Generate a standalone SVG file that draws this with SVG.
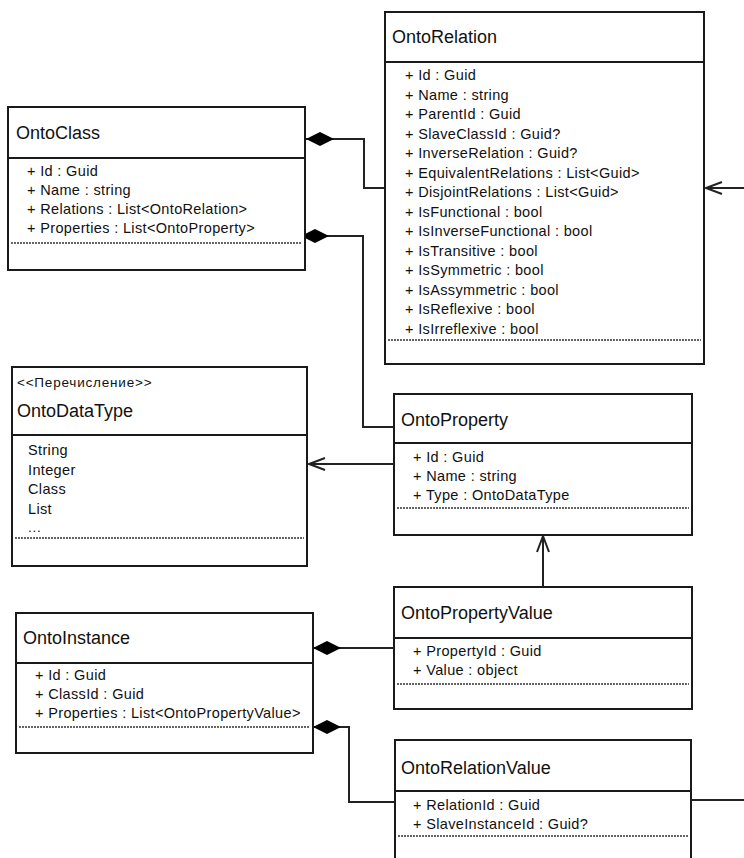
<svg xmlns="http://www.w3.org/2000/svg" width="744" height="858" viewBox="0 0 744 858">
<style>
.bg{fill:#fff}
.box{fill:#fff;stroke:#1a1a1a;stroke-width:2}
.sep{stroke:#1a1a1a;stroke-width:2}
.dot{stroke:#333;stroke-width:1.3;stroke-dasharray:2 1}
text{font-family:"Liberation Sans",Arial,sans-serif;fill:#111}
.title{font-size:18px}
.attr{font-size:14.5px;letter-spacing:0.35px}
.stereo{font-size:13.5px;letter-spacing:0.8px}
.conn{fill:none;stroke:#222;stroke-width:2}
.comp{marker-start:url(#diamond)}
.nav{marker-end:url(#open)}
</style>
<defs>
<marker id="diamond" markerUnits="userSpaceOnUse" viewBox="0 0 28 14" refX="0" refY="7" markerWidth="28" markerHeight="14" orient="auto">
<path d="M0,7 L14,0 L28,7 L14,14 Z" fill="#000"/>
</marker>
<marker id="open" markerUnits="userSpaceOnUse" viewBox="-18 -8 20 16" refX="0" refY="0" markerWidth="20" markerHeight="16" orient="auto" overflow="visible">
<path d="M-16,-6 L0,0 L-16,6" fill="none" stroke="#222" stroke-width="2"/>
</marker>
</defs>
<rect class="bg" width="744" height="858"/>

<g id="connectors">
<path class="conn comp" d="M306,139 H364 V188 H385"/>
<path class="conn comp" d="M301,236 H363 V427 H395"/>
<path class="conn nav" d="M744,188 H706"/>
<path class="conn nav" d="M394,464 H309"/>
<path class="conn nav" d="M543,587 V536"/>
<path class="conn comp" d="M313,648 H394"/>
<path class="conn comp" d="M313,727 H349 V802 H395"/>
<path class="conn" d="M691,800 H744"/>
</g>

<g id="OntoClass">
<rect class="box" x="8" y="107" width="297" height="163"/>
<line class="sep" x1="8" y1="158" x2="305" y2="158"/>
<text class="title" x="16" y="139">OntoClass</text>
<text class="attr" x="27" y="176">+ Id : Guid</text>
<text class="attr" x="27" y="195">+ Name : string</text>
<text class="attr" x="27" y="214">+ Relations : List&lt;OntoRelation&gt;</text>
<text class="attr" x="27" y="233">+ Properties : List&lt;OntoProperty&gt;</text>
<line class="dot" x1="11" y1="243" x2="302" y2="243"/>
</g>

<g id="OntoRelation">
<rect class="box" x="385" y="12" width="319" height="352"/>
<line class="sep" x1="385" y1="62" x2="704" y2="62"/>
<text class="title" x="392" y="43">OntoRelation</text>
<text class="attr" x="405" y="80">+ Id : Guid</text>
<text class="attr" x="405" y="99.5">+ Name : string</text>
<text class="attr" x="405" y="119">+ ParentId : Guid</text>
<text class="attr" x="405" y="138.5">+ SlaveClassId : Guid?</text>
<text class="attr" x="405" y="158">+ InverseRelation : Guid?</text>
<text class="attr" x="405" y="177.5">+ EquivalentRelations : List&lt;Guid&gt;</text>
<text class="attr" x="405" y="197">+ DisjointRelations : List&lt;Guid&gt;</text>
<text class="attr" x="405" y="216.5">+ IsFunctional : bool</text>
<text class="attr" x="405" y="236">+ IsInverseFunctional : bool</text>
<text class="attr" x="405" y="255.5">+ IsTransitive : bool</text>
<text class="attr" x="405" y="275">+ IsSymmetric : bool</text>
<text class="attr" x="405" y="294.5">+ IsAssymmetric : bool</text>
<text class="attr" x="405" y="314">+ IsReflexive : bool</text>
<text class="attr" x="405" y="333.5">+ IsIrreflexive : bool</text>
<line class="dot" x1="388" y1="340" x2="701" y2="340"/>
</g>

<g id="OntoDataType">
<rect class="box" x="12" y="367" width="295" height="199"/>
<line class="sep" x1="12" y1="435" x2="307" y2="435"/>
<text class="stereo" x="17" y="387">&lt;&lt;Перечисление&gt;&gt;</text>
<text class="title" x="17" y="417">OntoDataType</text>
<text class="attr" x="28" y="455">String</text>
<text class="attr" x="28" y="474.5">Integer</text>
<text class="attr" x="28" y="494">Class</text>
<text class="attr" x="28" y="513.5">List</text>
<text class="stereo" x="28" y="532">...</text>
<line class="dot" x1="15" y1="538" x2="304" y2="538"/>
</g>

<g id="OntoProperty">
<rect class="box" x="394" y="394" width="298" height="141"/>
<line class="sep" x1="394" y1="443" x2="692" y2="443"/>
<text class="title" x="401" y="426">OntoProperty</text>
<text class="attr" x="413" y="462">+ Id : Guid</text>
<text class="attr" x="413" y="481">+ Name : string</text>
<text class="attr" x="413" y="500">+ Type : OntoDataType</text>
<line class="dot" x1="397" y1="508" x2="689" y2="508"/>
</g>

<g id="OntoPropertyValue">
<rect class="box" x="394" y="587" width="298" height="122"/>
<line class="sep" x1="394" y1="638" x2="692" y2="638"/>
<text class="title" x="401" y="619">OntoPropertyValue</text>
<text class="attr" x="413" y="656">+ PropertyId : Guid</text>
<text class="attr" x="413" y="675">+ Value : object</text>
<line class="dot" x1="397" y1="684" x2="689" y2="684"/>
</g>

<g id="OntoInstance">
<rect class="box" x="16" y="613" width="297" height="140"/>
<line class="sep" x1="16" y1="663" x2="313" y2="663"/>
<text class="title" x="23" y="644">OntoInstance</text>
<text class="attr" x="35" y="680">+ Id : Guid</text>
<text class="attr" x="35" y="699">+ ClassId : Guid</text>
<text class="attr" x="35" y="718">+ Properties : List&lt;OntoPropertyValue&gt;</text>
<line class="dot" x1="19" y1="727" x2="310" y2="727"/>
</g>

<g id="OntoRelationValue">
<rect class="box" x="395" y="740" width="296" height="140"/>
<line class="sep" x1="395" y1="791" x2="691" y2="791"/>
<text class="title" x="401" y="774">OntoRelationValue</text>
<text class="attr" x="413" y="810">+ RelationId : Guid</text>
<text class="attr" x="413" y="829">+ SlaveInstanceId : Guid?</text>
<line class="dot" x1="398" y1="836" x2="688" y2="836"/>
</g>
</svg>
